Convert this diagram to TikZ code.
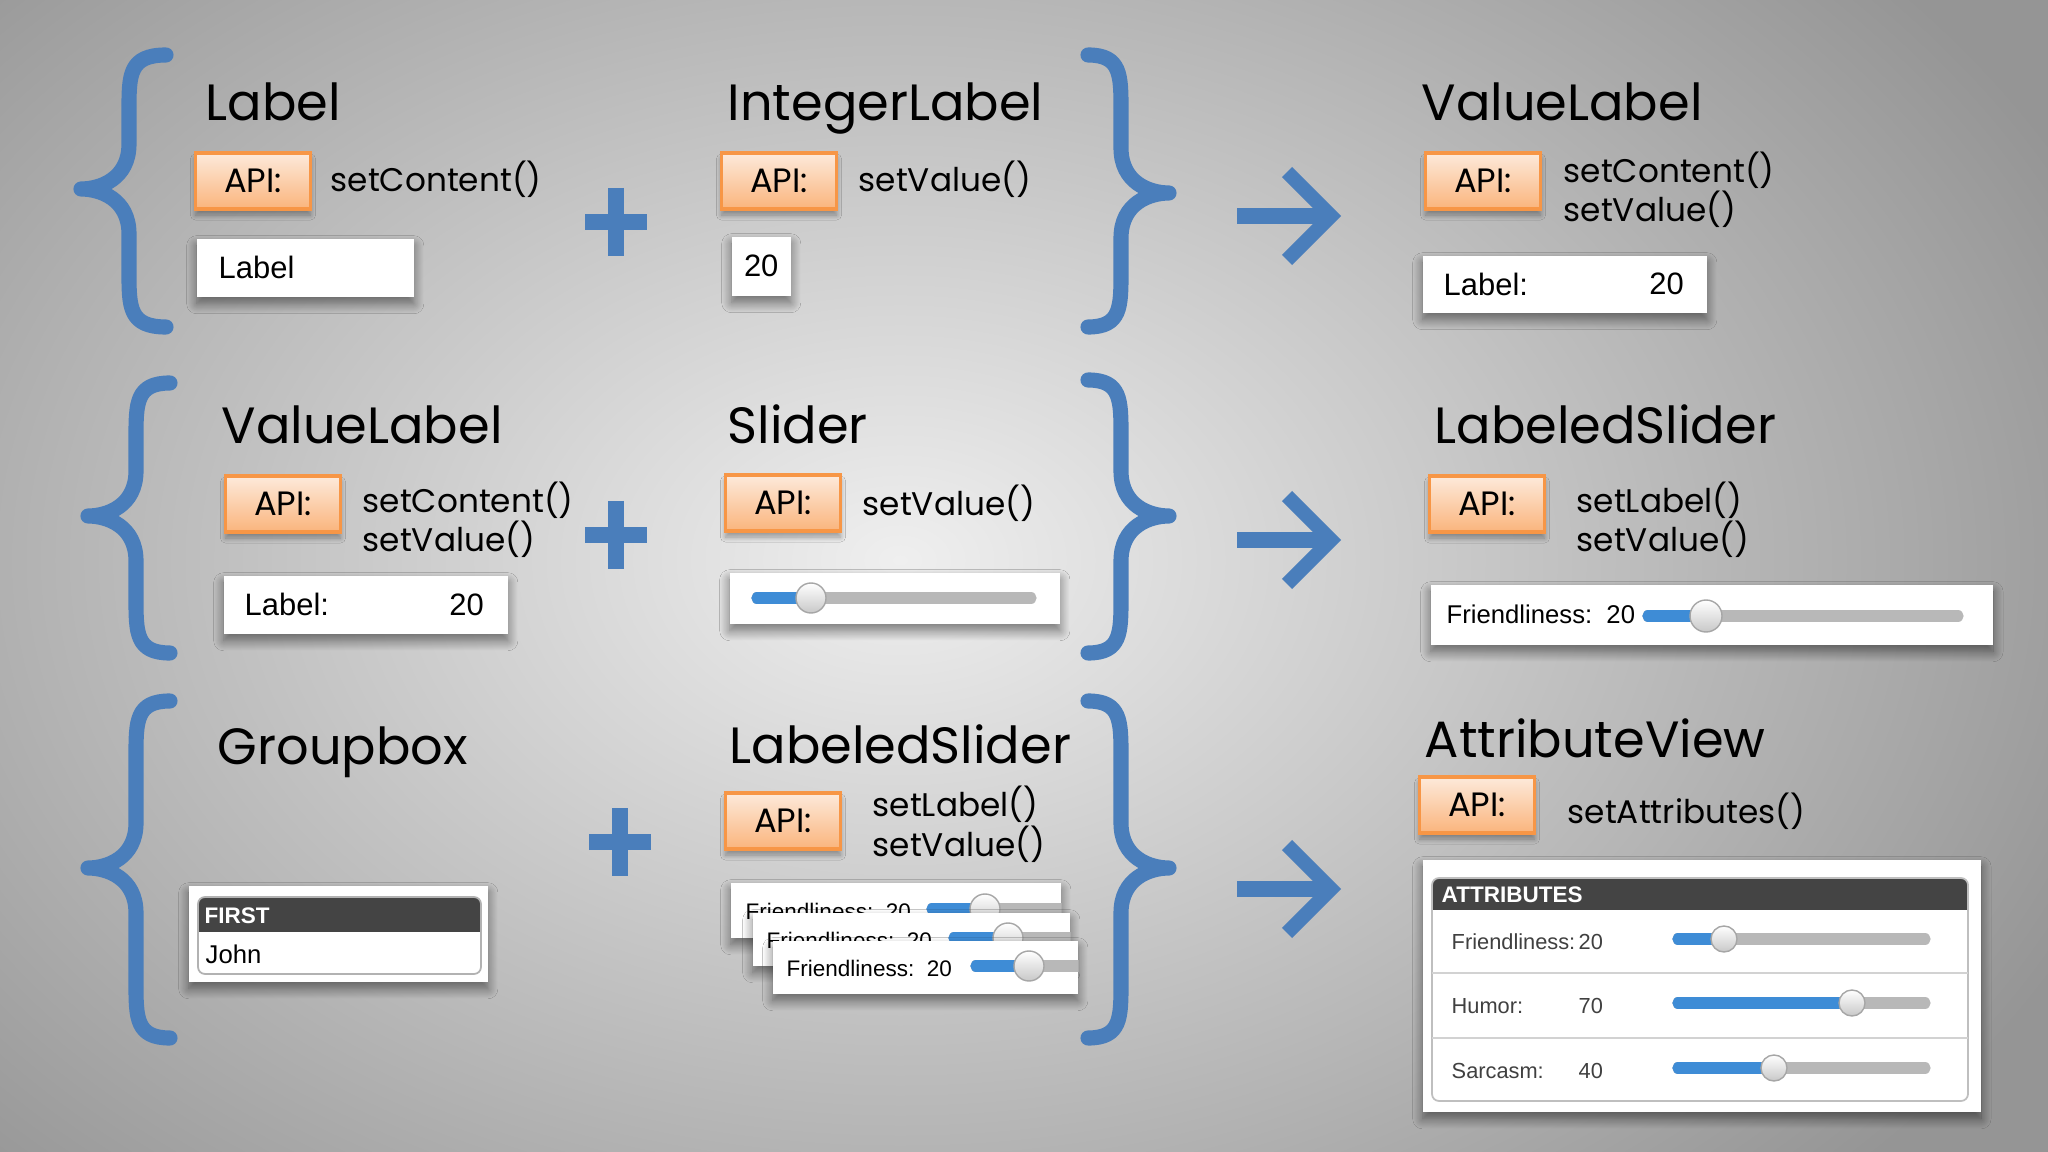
\documentclass[tikz,border=0pt]{standalone}
\usepackage{fontspec}
\newfontfamily\uifont{Liberation Sans}
\newfontfamily\gothic{Poppins}
\usetikzlibrary{positioning,shadows.blur}

\definecolor{braceblue}{HTML}{4A7EBB}
\definecolor{apiedge}{HTML}{F79646}
\definecolor{apitop}{HTML}{FDEADB}
\definecolor{apibot}{HTML}{FAB47C}
\definecolor{bginner}{HTML}{EFEFEF}
\definecolor{bgouter}{HTML}{959595}
\definecolor{headgray}{HTML}{444444}
\definecolor{sliderblue}{HTML}{3E8CD6}
\definecolor{trackgray}{HTML}{B8B8B8}
\definecolor{knobgray}{HTML}{C8C8C8}

% brace: tip x, end x, middle x, top y, tip y, bottom y
\newcommand\curlybrace[6]{%
  \draw[bracket] (#2,#4) .. controls (#3,#4) and (#3,#4+20) .. (#3,#4+55)
    -- (#3,#5-45) .. controls (#3,#5-10) and (0.6*#1+0.4*#3,#5) .. (#1,#5)
    .. controls (0.6*#1+0.4*#3,#5) and (#3,#5+10) .. (#3,#5+45)
    -- (#3,#6-55) .. controls (#3,#6-20) and (#3,#6) .. (#2,#6);}

% slider: start x, end x, y, knob x, knob radius
\newcommand\uislider[5]{%
  \draw[sliderline, draw=trackgray] (#1,#3) -- (#2,#3);
  \draw[sliderline, draw=sliderblue] (#1,#3) -- (#4,#3);
  \shade[draw=gray!70, line width=0.4pt, top color=white, bottom color=knobgray] (#4,#3) circle (#5);}

\begin{document}
\begin{tikzpicture}[x=0.01cm, y=-0.01cm,
  bracket/.style={draw=braceblue, line width=4.3pt, line cap=round, line join=round},
  plussign/.style={draw=braceblue, line width=4.6pt},
  arrowline/.style={draw=braceblue, line width=4.1pt, line join=miter},
  title/.style={anchor=base west, inner sep=0pt, font=\gothic\fontsize{14.5}{17}\selectfont},
  method/.style={anchor=base west, inner sep=0pt, font=\gothic\fontsize{9.3}{12}\selectfont},
  apibox/.style={draw=apiedge, line width=0.9pt, top color=apitop, bottom color=apibot,
    minimum width=1.15cm, minimum height=0.56cm, inner sep=0pt,
    font=\gothic\fontsize{9.6}{12}\selectfont,
    blur shadow={shadow blur radius=0.5mm, shadow xshift=0mm, shadow yshift=-0.6mm,
      shadow opacity=35, shadow blur steps=10}},
  widget/.style={fill=white, inner sep=0pt, anchor=north west,
    blur shadow={shadow blur radius=1mm, shadow xshift=0mm, shadow yshift=-0.7mm,
      shadow opacity=50, shadow blur steps=14}},
  uitext/.style={inner sep=0pt, font=\uifont\fontsize{8.8}{10}\selectfont},
  slidertext/.style={inner sep=0pt, anchor=west, font=\uifont\fontsize{7.3}{9}\selectfont},
  stacktext/.style={inner sep=0pt, anchor=west, font=\uifont\fontsize{6.4}{8}\selectfont},
  smalltext/.style={inner sep=0pt, anchor=west, font=\uifont\fontsize{6.2}{7}\selectfont, text=black!75},
  headtext/.style={inner sep=0pt, anchor=west, font=\uifont\bfseries\fontsize{6.4}{7}\selectfont, text=white},
  sliderline/.style={line width=3.2pt, line cap=round},
]

% Background
\useasboundingbox (0,0) rectangle (2048,1152);
\fill[bgouter] (0,0) rectangle (2048,1152);
\begin{scope}
  \clip (0,0) rectangle (2048,1152);
  \shade[inner color=bginner, outer color=bgouter] (900,560) ellipse (1300 and 900);
\end{scope}

% Braces
\curlybrace{81}{166}{129}{55}{189}{327}
\curlybrace{1169}{1088}{1121}{55}{193}{327}
\curlybrace{88}{170}{136}{383}{516}{653}
\curlybrace{1169}{1088}{1121}{380}{516}{653}
\curlybrace{88}{170}{136}{701}{868}{1038}
\curlybrace{1169}{1088}{1121}{701}{868}{1038}

% Plus signs
\draw[plussign] (585,222) -- (647,222) (616,188) -- (616,256);
\draw[plussign] (585,535) -- (647,535) (616,501) -- (616,569);
\draw[plussign] (589,842) -- (651,842) (620,808) -- (620,876);

% Arrows
\draw[arrowline, line width=4.3pt] (1237,216) -- (1322,216);
\draw[arrowline] (1287,172) -- (1331,216) -- (1287,260);
\draw[arrowline, line width=4.3pt] (1237,540) -- (1322,540);
\draw[arrowline] (1287,496) -- (1331,540) -- (1287,584);
\draw[arrowline, line width=4.3pt] (1237,889) -- (1322,889);
\draw[arrowline] (1287,845) -- (1331,889) -- (1287,933);

% Row 1: Label
\node[title] (t1a) at (205,121) {Label};
\node[apibox] (api1a) at (253,181) {API:};
\node[method] (m1a) at (330,192) {setContent()};
\node[widget, minimum width=2.17cm, minimum height=0.58cm] (w1a) at (196,238) {};
\node[uitext, right=0.22cm of w1a.west] (w1atext) {Label};

% Row 1: IntegerLabel
\node[title] (t1b) at (727,121) {IntegerLabel};
\node[apibox] (api1b) at (779,181) {API:};
\node[method] (m1b) at (858,192) {setValue()};
\node[widget, minimum width=0.59cm, minimum height=0.59cm] (w1b) at (731,236) {};
\node[uitext] (w1btext) at (w1b.center) {20};

% Row 1: ValueLabel
\node[title] (t1c) at (1421,121) {ValueLabel};
\node[apibox] (api1c) at (1483,181) {API:};
\node[method] (m1c) at (1563,183) {setContent()};
\node[method] (m1c2) at (1563,222) {setValue()};
\node[widget, minimum width=2.84cm, minimum height=0.57cm] (w1c) at (1422,255) {};
\node[uitext, right=0.21cm of w1c.west] (w1clabel) {Label:};
\node[uitext, left=0.23cm of w1c.east] (w1cvalue) {20};

% Row 2: ValueLabel
\node[title] (t2a) at (221,444) {ValueLabel};
\node[apibox] (api2a) at (283,504) {API:};
\node[method] (m2a) at (362,512) {setContent()};
\node[method] (m2a2) at (362,552) {setValue()};
\node[widget, minimum width=2.84cm, minimum height=0.58cm] (w2a) at (223,575) {};
\node[uitext, right=0.21cm of w2a.west] (w2alabel) {Label:};
\node[uitext, left=0.24cm of w2a.east] (w2avalue) {20};

% Row 2: Slider
\node[title] (t2b) at (727,444) {Slider};
\node[apibox] (api2b) at (783,503) {API:};
\node[method] (m2b) at (862,516) {setValue()};
\node[widget, minimum width=3.30cm, minimum height=0.51cm] (w2b) at (729,572) {};
\uislider{757}{1031}{598}{811}{15}

% Row 2: LabeledSlider
\node[title] (t2c) at (1434,444) {LabeledSlider};
\node[apibox] (api2c) at (1487,504) {API:};
\node[method] (m2c) at (1576,512) {setLabel()};
\node[method] (m2c2) at (1576,552) {setValue()};
\node[widget, minimum width=5.62cm, minimum height=0.6cm] (w2c) at (1430,584) {};
\node[slidertext, right=0.16cm of w2c.west] (w2ctext) {Friendliness:\ \ 20};
\uislider{1648}{1958}{616}{1706}{16}

% Row 3: Groupbox
\node[title] (t3a) at (217,764) {Groupbox};
\node[widget, minimum width=2.99cm, minimum height=0.96cm] (grp) at (188,885) {};
\begin{scope}
  \clip[rounded corners=2pt] (198,897) rectangle (481,974);
  \fill[headgray] (198,897) rectangle (481,932);
\end{scope}
\draw[gray!60, line width=0.5pt, rounded corners=2pt] (198,897) rectangle (481,974);
\node[headtext] (grphead) at (204,916) {FIRST};
\node[slidertext] (grpname) at (205,954) {John};

% Row 3: LabeledSlider (stacked)
\node[title] (t3b) at (729,763) {LabeledSlider};
\node[apibox] (api3b) at (783,821) {API:};
\node[method] (m3b) at (872,816) {setLabel()};
\node[method] (m3b2) at (872,856) {setValue()};
\node[widget, minimum width=3.30cm, minimum height=0.55cm] (ls1) at (730,882) {};
\begin{scope}
  \clip (ls1.north west) rectangle (ls1.south east);
  \node[stacktext] (ls1text) at (745,911) {Friendliness:\ \ 20};
  \uislider{932}{1075}{909}{985}{15}
\end{scope}
\node[widget, minimum width=3.17cm, minimum height=0.53cm] (ls2) at (752,912) {};
\begin{scope}
  \clip (ls2.north west) rectangle (ls2.south east);
  \node[stacktext] (ls2text) at (766,940) {Friendliness:\ \ 20};
  \uislider{954}{1085}{938}{1008}{15}
\end{scope}
\node[widget, minimum width=3.05cm, minimum height=0.53cm] (ls3) at (772,940) {};
\begin{scope}
  \clip (ls3.north west) rectangle (ls3.south east);
  \node[stacktext] (ls3text) at (786,968) {Friendliness:\ \ 20};
  \uislider{976}{1095}{966}{1029}{15}
\end{scope}

% Row 3: AttributeView
\node[title] (t3c) at (1424,757) {AttributeView};
\node[apibox] (api3c) at (1477,805) {API:};
\node[method] (m3c) at (1567,823) {setAttributes()};
\node[widget, minimum width=5.58cm, minimum height=2.52cm] (panel) at (1422,859) {};
\begin{scope}
  \clip[rounded corners=2pt] (1432,878) rectangle (1968,1101);
  \fill[headgray] (1432,878) rectangle (1968,910);
\end{scope}
\draw[gray!50, line width=0.5pt, rounded corners=2pt] (1432,878) rectangle (1968,1101);
\draw[gray!35, line width=0.6pt] (1432,973) -- (1968,973) (1432,1038) -- (1968,1038);
\node[headtext] (panelhead) at (1441,895) {ATTRIBUTES};
\node[smalltext] (a1) at (1451,942) {Friendliness:};
\node[smalltext] (a1v) at (1578,942) {20};
\uislider{1678}{1925}{939}{1724}{13}
\node[smalltext] (a2) at (1451,1006) {Humor:};
\node[smalltext] (a2v) at (1578,1006) {70};
\uislider{1678}{1925}{1003}{1852}{13}
\node[smalltext] (a3) at (1451,1071) {Sarcasm:};
\node[smalltext] (a3v) at (1578,1071) {40};
\uislider{1678}{1925}{1068}{1774}{13}

\end{tikzpicture}
\end{document}
